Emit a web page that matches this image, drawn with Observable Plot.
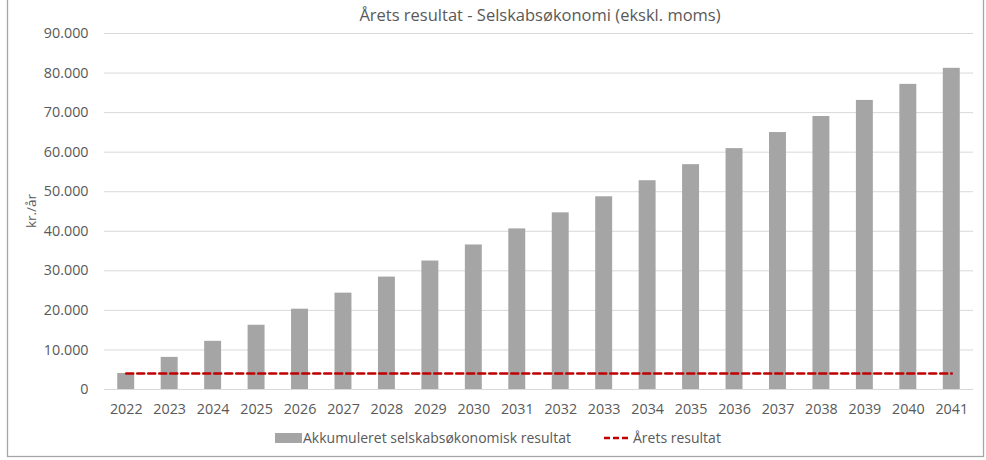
<!DOCTYPE html>
<html><head><meta charset="utf-8">
<script src="https://cdn.jsdelivr.net/npm/d3@7"></script>
<script src="https://cdn.jsdelivr.net/npm/@observablehq/plot@0.6"></script>
<style>body{margin:0;background:#fff;font-family:"Open Sans",sans-serif;}#chart{position:relative;width:986px;height:460px;}</style>
</head><body><div id="chart"></div>
<script>
const years = ["2022","2023","2024","2025","2026","2027","2028","2029","2030","2031","2032","2033","2034","2035","2036","2037","2038","2039","2040","2041"];
const akkumuleret = [4060,8120,12180,16240,20300,24360,28420,32480,36540,40600,44660,48720,52780,56840,60900,64960,69020,73080,77140,81200];
const aretsResultat = [4060,4060,4060,4060,4060,4060,4060,4060,4060,4060,4060,4060,4060,4060,4060,4060,4060,4060,4060,4060];
const yTicks = [0,10000,20000,30000,40000,50000,60000,70000,80000,90000];
const title = "Årets resultat - Selskabsøkonomi (ekskl. moms)";
const yLabel = "kr./år";
const legendBar = "Akkumuleret selskabsøkonomisk resultat";
const legendLine = "Årets resultat";

const data = years.map((y,i)=>({year:y, akk:akkumuleret[i], res:aretsResultat[i]}));
const fmt = d => d3.format(",")(d).replace(/,/g,".");

const plot = Plot.plot({
  width: 986, height: 460,
  marginLeft: 104, marginRight: 13, marginTop: 33, marginBottom: 71,
  style: {fontFamily: '"Open Sans", sans-serif', fontSize: "14.3px", color: "#595959", background: "#fff"},
  x: {domain: years, paddingInner: 0.61, paddingOuter: 0.305, round: false, label: null, tickSize: 0, tickPadding: 14},
  y: {domain: [0, 90000], ticks: yTicks, tickFormat: fmt, label: null, tickSize: 0, tickPadding: 16, grid: false},
  marks: [
    Plot.gridY(yTicks, {stroke: "#D9D9D9", strokeOpacity: 1, strokeWidth: 1}),
    Plot.barY(data, {x: "year", y: "akk", fill: "#A5A5A5"}),
    Plot.lineY(data, {x: "year", y: "res", stroke: "#C00000", strokeWidth: 2.5, strokeDasharray: "7,4"})
  ]
});
document.getElementById("chart").appendChild(plot);
const svg = d3.select(plot);
// frame
svg.insert("rect", ":first-child").attr("x",7.5).attr("y",-1).attr("width",976).attr("height",457.5)
  .attr("fill","none").attr("stroke","#A6A6A6").attr("stroke-width",1.3);
// title
svg.append("text").attr("x",540).attr("y",21).attr("text-anchor","middle")
  .attr("font-size","16.5px").attr("fill","#595959").text(title);
// y label
svg.append("text").attr("transform","translate(36,211) rotate(-90)").attr("text-anchor","middle")
  .attr("font-size","13.5px").attr("fill","#595959").text(yLabel);
// legend
const lg = svg.append("g").attr("font-size","14px").attr("fill","#595959").attr("text-anchor","start");
lg.append("rect").attr("x",275).attr("y",433).attr("width",27).attr("height",10).attr("fill","#A5A5A5");
lg.append("text").attr("x",303).attr("y",443).text(legendBar);
lg.append("line").attr("x1",604).attr("x2",628).attr("y1",438).attr("y2",438)
  .attr("stroke","#C00000").attr("stroke-width",2.5).attr("stroke-dasharray","6,3");
lg.append("text").attr("x",633).attr("y",443).text(legendLine);
</script></body></html>
